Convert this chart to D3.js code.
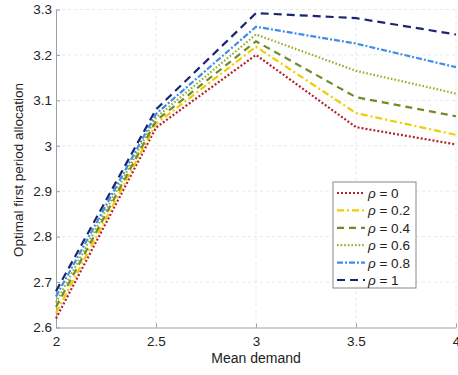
<!DOCTYPE html>
<html><head><meta charset="utf-8">
<script src="https://cdn.jsdelivr.net/npm/d3@7"></script>
<style>body{margin:0;background:#fff}svg{display:block;font-family:"Liberation Sans",Arial,sans-serif}</style>
</head><body><svg id="c" width="458" height="375"></svg>
<script>
const xValues = [2, 2.5, 3, 3.5, 4];
const seriesNames = ["ρ = 0", "ρ = 0.2", "ρ = 0.4", "ρ = 0.6", "ρ = 0.8", "ρ = 1"];
const rho0  = [2.620, 3.040, 3.200, 3.041, 3.003];
const rho02 = [2.632, 3.048, 3.218, 3.072, 3.024];
const rho04 = [2.645, 3.055, 3.230, 3.107, 3.065];
const rho06 = [2.655, 3.062, 3.245, 3.165, 3.115];
const rho08 = [2.668, 3.070, 3.262, 3.225, 3.173];
const rho1  = [2.680, 3.080, 3.292, 3.281, 3.245];
const xTicks = [2, 2.5, 3, 3.5, 4];
const yTicks = [2.6, 2.7, 2.8, 2.9, 3, 3.1, 3.2, 3.3];

const series = [rho0, rho02, rho04, rho06, rho08, rho1];
const colors = ["#b5202e", "#f0cc00", "#6e8c2a", "#9aae2e", "#3f8ee6", "#1c2670"];
const dashes = ["2,2", "7,3,2,3", "7,5", "1.6,2", "6,2,2,2", "8,5"];

const svg = d3.select("#c");
const x = d3.scaleLinear().domain([2, 4]).range([56, 456]);
const y = d3.scaleLinear().domain([2.6, 3.3]).range([327.5, 9.5]);

// grid
const g = svg.append("g");
g.selectAll(".gy").data(yTicks.slice(1)).enter().append("line")
  .attr("x1", 56).attr("x2", 456).attr("y1", d => y(d)).attr("y2", d => y(d))
  .attr("stroke", "#e4e8ee").attr("stroke-width", 1).attr("stroke-dasharray", "3,3");
g.selectAll(".gx").data(xTicks.slice(1)).enter().append("line")
  .attr("y1", 9.5).attr("y2", 327.5).attr("x1", d => x(d)).attr("x2", d => x(d))
  .attr("stroke", "#e4e8ee").attr("stroke-width", 1).attr("stroke-dasharray", "3,3");

// axes
const xAxis = svg.append("g").attr("transform", "translate(0,327.5)")
  .call(d3.axisBottom(x).tickValues(xTicks).tickFormat(d3.format("")).tickSizeInner(-4).tickSizeOuter(0).tickPadding(9));
const yAxis = svg.append("g").attr("transform", "translate(56,0)")
  .call(d3.axisLeft(y).tickValues(yTicks).tickFormat(d3.format("")).tickSizeInner(-4).tickSizeOuter(0).tickPadding(4));
[xAxis, yAxis].forEach(a => {
  a.select(".domain").attr("stroke", "#9aa0a8");
  a.selectAll(".tick line").attr("stroke", "#9aa0a8");
  a.selectAll("text").attr("fill", "#222").style("font-size", "13.5px").style("font-family", "Liberation Sans, Arial, sans-serif");
});

// lines
const line = d3.line().x((d, i) => x(xValues[i])).y(d => y(d));
series.forEach((s, i) => {
  svg.append("path").datum(s).attr("d", line).attr("fill", "none")
    .attr("stroke", colors[i]).attr("stroke-width", 2.2).attr("stroke-dasharray", dashes[i]);
});

// labels
svg.append("text").attr("x", 256).attr("y", 363).attr("text-anchor", "middle")
  .style("font-size", "14px").attr("fill", "#222").text("Mean demand");
svg.append("text").attr("transform", "translate(23,170) rotate(-90)").attr("text-anchor", "middle")
  .style("font-size", "13.5px").attr("fill", "#222").text("Optimal first period allocation");

// legend
const lg = svg.append("g");
lg.append("rect").attr("x", 333).attr("y", 182).attr("width", 83).attr("height", 106)
  .attr("fill", "#fff").attr("stroke", "#888").attr("stroke-width", 1);
seriesNames.forEach((n, i) => {
  const yy = 193 + i * 17.4;
  lg.append("line").attr("x1", 337).attr("x2", 365).attr("y1", yy).attr("y2", yy)
    .attr("stroke", colors[i]).attr("stroke-width", 2.2).attr("stroke-dasharray", dashes[i]);
  const t = lg.append("text").attr("x", 368).attr("y", yy + 5).style("font-size", "13.5px").attr("fill", "#222");
  t.append("tspan").style("font-style", "italic").text("ρ");
  t.append("tspan").text(n.slice(1));
});
</script></body></html>
